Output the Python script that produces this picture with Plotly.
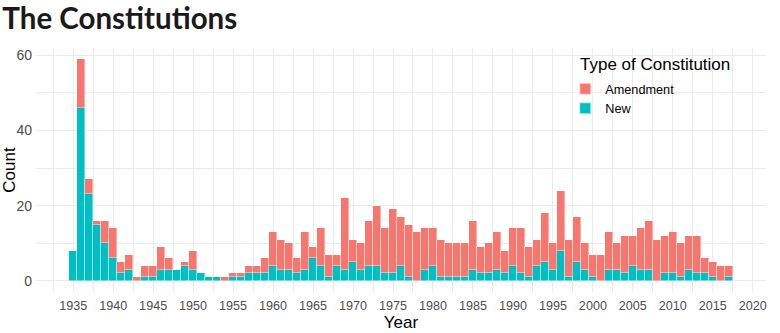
import plotly.graph_objects as go

years = list(range(1935, 2018))

new_counts = [
    8, 46, 23, 15, 10, 6, 2, 3, 0, 1,          # 1935-1944
    1, 3, 3, 3, 4, 3, 2, 1, 1, 0,              # 1945-1954
    1, 1, 2, 2, 2, 4, 3, 3, 2, 3,              # 1955-1964
    6, 4, 1, 4, 3, 5, 3, 4, 4, 2,              # 1965-1974
    2, 4, 1, 0, 3, 4, 1, 1, 1, 1,              # 1975-1984
    3, 2, 2, 3, 2, 4, 2, 1, 4, 5,              # 1985-1994
    3, 8, 1, 5, 3, 1, 0, 3, 3, 2,              # 1995-2004
    4, 3, 3, 0, 2, 2, 1, 3, 2, 2,              # 2005-2014
    1, 0, 1,                                   # 2015-2017
]

amendment_counts = [
    0, 13, 4, 1, 6, 8, 3, 4, 1, 3,             # 1935-1944
    3, 6, 3, 0, 1, 5, 0, 0, 0, 1,              # 1945-1954
    1, 1, 2, 2, 4, 9, 8, 7, 4, 10,             # 1955-1964
    3, 10, 6, 3, 19, 6, 7, 12, 16, 12,         # 1965-1974
    17, 13, 14, 13, 11, 10, 10, 9, 9, 9,       # 1975-1984
    13, 7, 8, 10, 6, 10, 12, 8, 7, 13,         # 1985-1994
    7, 16, 10, 12, 7, 6, 7, 10, 7, 10,         # 1995-2004
    8, 11, 13, 11, 10, 11, 9, 9, 10, 4,        # 2005-2014
    4, 4, 3,                                   # 2015-2017
]

x_ticks = list(range(1935, 2021, 5))
y_ticks = [0, 20, 40, 60]

AMEND_COLOR = "#F8766D"
NEW_COLOR = "#00BFC4"
GRID = "#EBEBEB"
SANS = "Liberation Sans, Arial, sans-serif"
X_TICK_FONT = dict(family=SANS, size=12.6, color="#4D4D4D")
Y_TICK_FONT = dict(family=SANS, size=14, color="#4D4D4D")
AXIS_TITLE_FONT = dict(family=SANS, size=17, color="#000000")

fig = go.Figure()
fig.add_trace(go.Bar(
    x=years, y=new_counts, name="New",
    marker=dict(color=NEW_COLOR, line=dict(color="rgba(255,255,255,0.7)", width=0.6)),
    width=0.95,
))
fig.add_trace(go.Bar(
    x=years, y=amendment_counts, name="Amendment",
    marker=dict(color=AMEND_COLOR, line=dict(color="rgba(255,255,255,0.7)", width=0.6)),
    width=0.95,
))

fig.update_layout(
    width=780, height=333,
    barmode="stack", bargap=0,
    plot_bgcolor="white", paper_bgcolor="white",
    margin=dict(l=36, r=14, t=48, b=41),
    title=dict(
        text="<b>The Constitutions</b>",
        font=dict(family="Lato, sans-serif", size=29.5, color="#1a1a1a"),
        x=0.003, xanchor="left", y=0.944, yanchor="middle",
    ),
    legend=dict(
        font=dict(family=SANS, size=12.7, color="#000000"),
        traceorder="reversed",
        x=0.725, xanchor="left", y=0.893, yanchor="top",
        bgcolor="rgba(0,0,0,0)",
        itemsizing="constant",
        tracegroupgap=0,
    ),
    annotations=[dict(
        text="Type of Constitution", font=AXIS_TITLE_FONT,
        xref="paper", yref="paper", x=0.742, y=0.932,
        xanchor="left", yanchor="middle", showarrow=False,
    )],
    xaxis=dict(
        range=[1930.35, 2021.65], automargin=False,
        tickmode="array", tickvals=x_ticks,
        ticktext=[str(v) for v in x_ticks],
        tickfont=X_TICK_FONT, ticklabelstandoff=4,
        showgrid=True, gridcolor=GRID, gridwidth=1,
        minor=dict(tickvals=[v + 2.5 for v in [1930] + x_ticks], showgrid=True,
                   gridcolor=GRID, gridwidth=0.6),
        zeroline=False, showline=False, ticks="",
        title=dict(text="Year", font=AXIS_TITLE_FONT, standoff=1),
    ),
    yaxis=dict(
        range=[-2.95, 61.95], automargin=False,
        tickmode="array", tickvals=y_ticks,
        tickfont=Y_TICK_FONT, ticklabelstandoff=3,
        showgrid=True, gridcolor=GRID, gridwidth=1,
        minor=dict(tickvals=[10, 30, 50], showgrid=True, gridcolor=GRID, gridwidth=0.6),
        zeroline=False, showline=False, ticks="",
        title=dict(text="Count", font=AXIS_TITLE_FONT, standoff=4),
    ),
)

fig.write_html("out.html")
